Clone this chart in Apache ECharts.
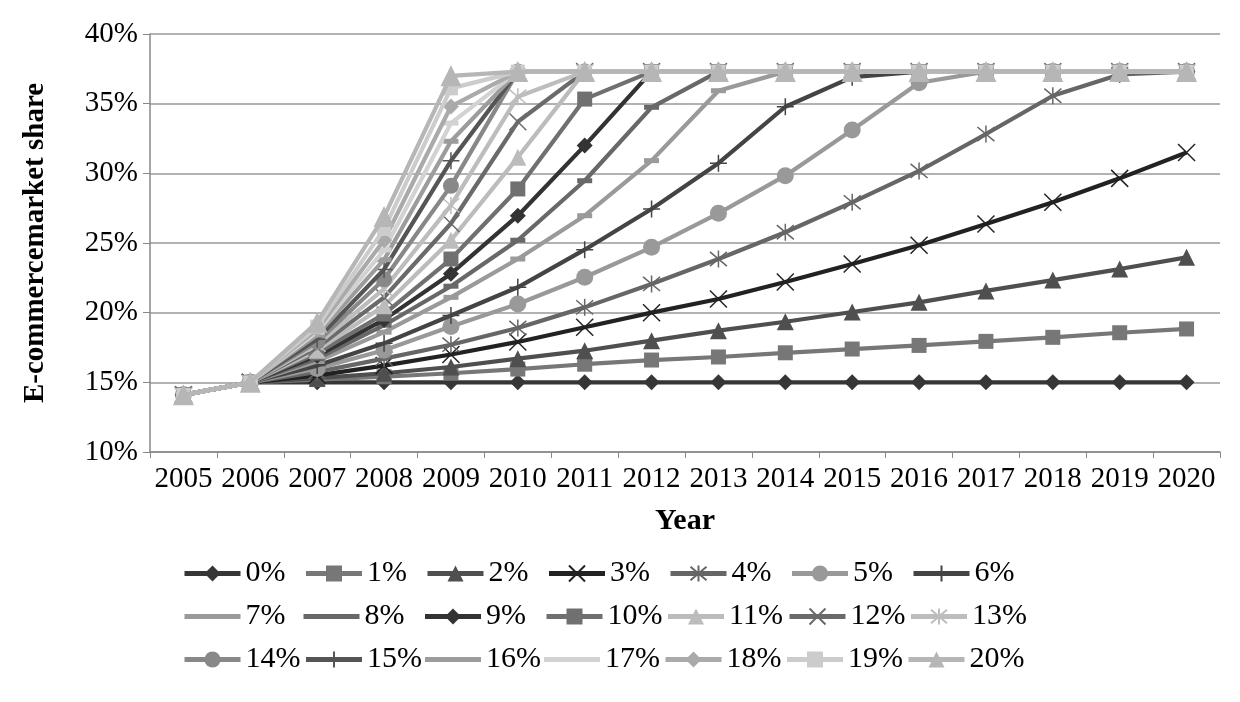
<!DOCTYPE html>
<html>
<head>
<meta charset="utf-8">
<script src="https://cdn.jsdelivr.net/npm/echarts@6/dist/echarts.min.js"></script>
<style>
  html, body { margin: 0; padding: 0; background: #fff; }
  #chart { width: 1240px; height: 702px; }
</style>
</head>
<body>
<div id="chart"></div>
<script>
// years on the x axis
const years = ['2005','2006','2007','2008','2009','2010','2011','2012','2013','2014','2015','2016','2017','2018','2019','2020'];
const yTicks = [10, 15, 20, 25, 30, 35, 40];

// e-commerce market share (%) for each growth rate
const g00 = [14.1, 15, 15, 15, 15, 15, 15, 15, 15, 15, 15, 15, 15, 15, 15, 15];
const g01 = [14.1, 15, 15.2, 15.4, 15.65, 15.95, 16.3, 16.6, 16.82, 17.12, 17.39, 17.65, 17.94, 18.23, 18.56, 18.83];
const g02 = [14.1, 15, 15.3, 15.65, 16.1, 16.7, 17.27, 17.99, 18.71, 19.35, 20.05, 20.74, 21.56, 22.34, 23.13, 23.97];
const g03 = [14.1, 15, 15.5, 16.2, 17.0, 17.9, 18.95, 20.0, 20.98, 22.2, 23.49, 24.84, 26.36, 27.92, 29.64, 31.5];
const g04 = [14.1, 15, 15.75, 16.7, 17.7, 18.9, 20.38, 22.06, 23.85, 25.77, 27.92, 30.17, 32.82, 35.57, 37.1, 37.3];
const g05 = [14.1, 15, 16.0, 17.3, 19.0, 20.62, 22.54, 24.69, 27.13, 29.83, 33.11, 36.5, 37.3, 37.3, 37.3, 37.3];
const g06 = [14.1, 15, 16.2, 17.8, 19.8, 21.82, 24.52, 27.44, 30.73, 34.78, 36.9, 37.3, 37.3, 37.3, 37.3, 37.3];
const g07 = [14.1, 15, 16.5, 18.6, 21.1, 23.85, 26.96, 30.91, 35.93, 37.3, 37.3, 37.3, 37.3, 37.3, 37.3, 37.3];
const g08 = [14.1, 15, 16.7, 19.1, 21.9, 25.2, 29.47, 34.74, 37.3, 37.3, 37.3, 37.3, 37.3, 37.3, 37.3, 37.3];
const g09 = [14.1, 15, 16.9, 19.5, 22.8, 26.96, 31.99, 37.3, 37.3, 37.3, 37.3, 37.3, 37.3, 37.3, 37.3, 37.3];
const g10 = [14.1, 15, 17.1, 19.9, 23.85, 28.88, 35.33, 37.3, 37.3, 37.3, 37.3, 37.3, 37.3, 37.3, 37.3, 37.3];
const g11 = [14.1, 15, 17.3, 20.5, 25.2, 31.15, 37.3, 37.3, 37.3, 37.3, 37.3, 37.3, 37.3, 37.3, 37.3, 37.3];
const g12 = [14.1, 15, 17.5, 21.1, 26.4, 33.7, 37.3, 37.3, 37.3, 37.3, 37.3, 37.3, 37.3, 37.3, 37.3, 37.3];
const g13 = [14.1, 15, 17.7, 21.7, 27.7, 35.5, 37.3, 37.3, 37.3, 37.3, 37.3, 37.3, 37.3, 37.3, 37.3, 37.3];
const g14 = [14.1, 15, 17.9, 22.4, 29.1, 37.3, 37.3, 37.3, 37.3, 37.3, 37.3, 37.3, 37.3, 37.3, 37.3, 37.3];
const g15 = [14.1, 15, 18.1, 23.1, 30.9, 37.3, 37.3, 37.3, 37.3, 37.3, 37.3, 37.3, 37.3, 37.3, 37.3, 37.3];
const g16 = [14.1, 15, 18.4, 23.8, 32.3, 37.3, 37.3, 37.3, 37.3, 37.3, 37.3, 37.3, 37.3, 37.3, 37.3, 37.3];
const g17 = [14.1, 15, 18.6, 24.5, 33.6, 37.3, 37.3, 37.3, 37.3, 37.3, 37.3, 37.3, 37.3, 37.3, 37.3, 37.3];
const g18 = [14.1, 15, 18.8, 25.2, 34.8, 37.3, 37.3, 37.3, 37.3, 37.3, 37.3, 37.3, 37.3, 37.3, 37.3, 37.3];
const g19 = [14.1, 15, 19.0, 26.0, 36.1, 37.3, 37.3, 37.3, 37.3, 37.3, 37.3, 37.3, 37.3, 37.3, 37.3, 37.3];
const g20 = [14.1, 15, 19.3, 26.9, 37.0, 37.3, 37.3, 37.3, 37.3, 37.3, 37.3, 37.3, 37.3, 37.3, 37.3, 37.3];

const rates = ['0%','1%','2%','3%','4%','5%','6%','7%','8%','9%','10%','11%','12%','13%','14%','15%','16%','17%','18%','19%','20%'];
const shares = [g00,g01,g02,g03,g04,g05,g06,g07,g08,g09,g10,g11,g12,g13,g14,g15,g16,g17,g18,g19,g20];

const FONT = "'Liberation Serif', 'Times New Roman', serif";
const X_MARK = 'path://M0,0L10,10M10,0L0,10';
const STAR = 'path://M0,1L10,11M10,1L0,11M5,0L5,12';
const PLUS = 'path://M6,0L6,12M0,6L12,6';
const DASH_ICON = 'path://M0,0L58,0L58,5L0,5Z';

// marker look for each line: [colour, symbol, size]
const looks = [
  ['#363636', 'diamond', 16],
  ['#777777', 'rect', 15],
  ['#4f4f4f', 'triangle', 17],
  ['#222222', X_MARK, 17],
  ['#666666', STAR, 17],
  ['#999999', 'circle', 17],
  ['#444444', PLUS, 17],
  ['#9a9a9a', 'dash', 0],
  ['#686868', 'dash', 0],
  ['#333333', 'diamond', 16],
  ['#707070', 'rect', 15],
  ['#bcbcbc', 'triangle', 17],
  ['#6a6a6a', X_MARK, 17],
  ['#bdbdbd', STAR, 17],
  ['#888888', 'circle', 16],
  ['#555555', PLUS, 17],
  ['#9c9c9c', 'dash', 0],
  ['#d2d2d2', 'dash', 0],
  ['#aaaaaa', 'diamond', 16],
  ['#cccccc', 'rect', 14],
  ['#b6b6b6', 'triangle', 21]
];

const series = shares.map((vals, i) => {
  const [color, sym, size] = looks[i];
  const open = (sym === X_MARK || sym === STAR || sym === PLUS);
  const dash = sym === 'dash';
  return {
    name: rates[i],
    type: 'line',
    data: vals,
    symbol: dash ? 'rect' : sym,
    symbolSize: dash ? [15, 5] : size,
    showSymbol: true,
    lineStyle: { color: color, width: 4.2 },
    itemStyle: {
      color: open ? 'rgba(0,0,0,0)' : color,
      borderColor: color,
      borderWidth: open ? 1.5 : 0
    },
    z: 2 + i
  };
});

const legendData = rates.map((r, i) => looks[i][1] === 'dash' ? { name: r, icon: DASH_ICON } : { name: r });

const chart = echarts.init(document.getElementById('chart'), null, { renderer: 'canvas' });
chart.setOption({
  animation: false,
  backgroundColor: '#ffffff',
  grid: { left: 150, right: 20, top: 34, bottom: 250 },
  xAxis: {
    type: 'category',
    data: years,
    boundaryGap: true,
    name: 'Year',
    nameLocation: 'middle',
    nameGap: 54,
    nameTextStyle: { fontFamily: FONT, fontSize: 30, fontWeight: 'bold', color: '#000' },
    axisLine: { lineStyle: { color: '#888', width: 1.5 } },
    axisTick: { show: true, length: 6, lineStyle: { color: '#888' } },
    axisLabel: { fontFamily: FONT, fontSize: 29, color: '#000', margin: 13, interval: 0 }
  },
  yAxis: {
    type: 'value',
    min: yTicks[0],
    max: yTicks[yTicks.length - 1],
    interval: 5,
    name: 'E-commercemarket share',
    nameLocation: 'middle',
    nameGap: 100,
    nameTextStyle: { fontFamily: FONT, fontSize: 29, fontWeight: 'bold', color: '#000' },
    axisLine: { show: true, lineStyle: { color: '#888', width: 1.5 } },
    axisTick: { show: true, length: 7, lineStyle: { color: '#888' } },
    axisLabel: { fontFamily: FONT, fontSize: 29, color: '#000', formatter: '{value}%', margin: 12 },
    splitLine: { lineStyle: { color: '#999', width: 1.5 } }
  },
  legend: {
    data: legendData,
    left: 182,
    top: 552,
    width: 920,
    padding: 0,
    itemWidth: 56,
    itemHeight: 20,
    itemGap: 0,
    lineStyle: { width: 5 },
    textStyle: { fontFamily: FONT, fontSize: 30, color: '#000', width: 58, lineHeight: 43 }
  },
  series: series
});
</script>
</body>
</html>
